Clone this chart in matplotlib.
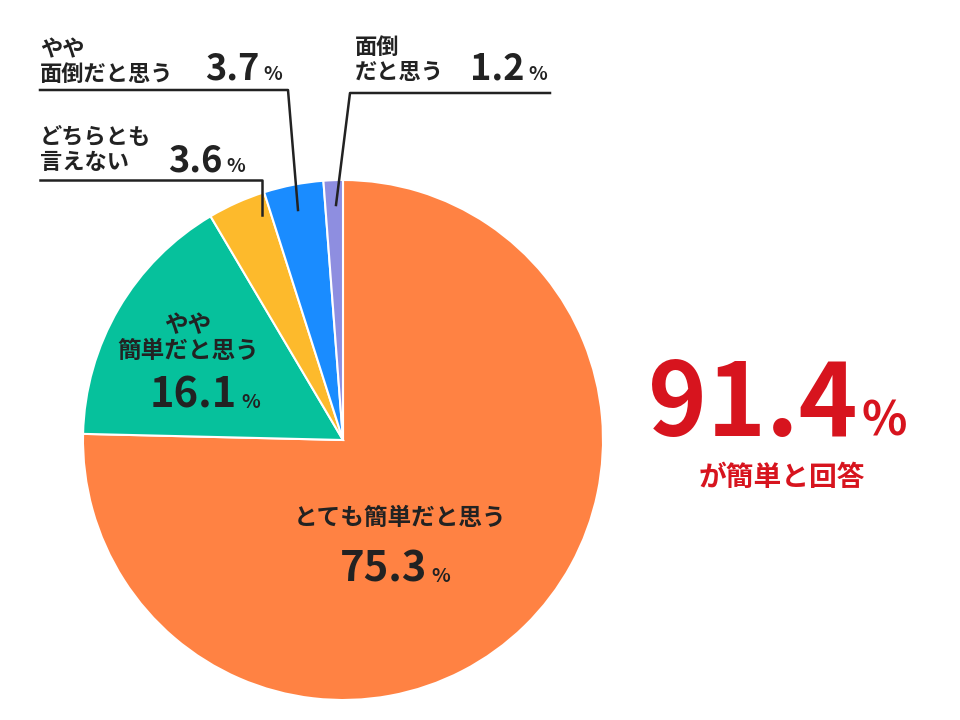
import matplotlib.pyplot as plt

plt.rcParams['font.family'] = ['Noto Sans CJK JP', 'DejaVu Sans']

labels = ['とても簡単だと思う', 'やや簡単だと思う', 'どちらとも言えない', 'やや面倒だと思う', '面倒だと思う']
values = [75.3, 16.1, 3.6, 3.7, 1.2]
colors = ['#FF8243', '#06C19C', '#FDBA2C', '#1A8CFF', '#8E8EE0']

fig = plt.figure(figsize=(9.6, 7.2), dpi=100)
ax = fig.add_axes([0, 0, 1, 1])
ax.set_aspect('equal')

def Y(y):
    return 720 - y

ax.pie(values, colors=colors, startangle=90, counterclock=False,
       center=(343, Y(440)), radius=260,
       wedgeprops=dict(edgecolor='white', linewidth=1.5), frame=True)
ax.set_xlim(0, 960)
ax.set_ylim(0, 720)
ax.axis('off')

dark = '#222222'

def pct(x, y, num, size=30, color=dark, psize=14):
    t = ax.text(x, Y(y), num, fontsize=size, fontweight='bold', color=color,
                ha='left', va='baseline')
    fig.canvas.draw()
    bb = t.get_window_extent()
    ax.text(bb.x1 + 4, Y(y), '%', fontsize=psize, fontweight='bold',
            color=color, ha='left', va='baseline')

# main slice
ax.text(400, Y(518), labels[0], fontsize=17, fontweight='bold', color=dark, ha='center', va='center')
pct(340, 582, f'{values[0]}', size=30)

# green slice
ax.text(188, Y(338), 'やや\n簡単だと思う', fontsize=17, fontweight='bold', color=dark,
        ha='center', va='center', linespacing=1.1)
pct(150, 408, f'{values[1]}', size=30)

# outer labels
ax.text(40, Y(62), 'やや\n面倒だと思う', fontsize=16, fontweight='bold', color=dark,
        ha='left', va='center', linespacing=1.1)
pct(205, 80, f'{values[3]}', size=26)
ax.plot([40, 288, 298], [Y(90), Y(90), Y(210)], color=dark, lw=1.8)

ax.text(355, Y(60), '面倒\nだと思う', fontsize=16, fontweight='bold', color=dark,
        ha='left', va='center', linespacing=1.1)
pct(470, 80, f'{values[4]}', size=26)
ax.plot([550, 350, 336], [Y(93), Y(93), Y(205)], color=dark, lw=1.8)

ax.text(40, Y(150), 'どちらとも\n言えない', fontsize=16, fontweight='bold', color=dark,
        ha='left', va='center', linespacing=1.1)
pct(168, 172, f'{values[2]}', size=26)
ax.plot([40, 262, 262], [Y(180), Y(180), Y(215)], color=dark, lw=1.8)

# summary
red = '#D7141E'
pct(648, 436, '91.4', size=72, color=red, psize=34)
ax.text(782, Y(478), 'が簡単と回答', fontsize=20, fontweight='bold', color=red,
        ha='center', va='center')

fig.savefig('out.png', dpi=100)
